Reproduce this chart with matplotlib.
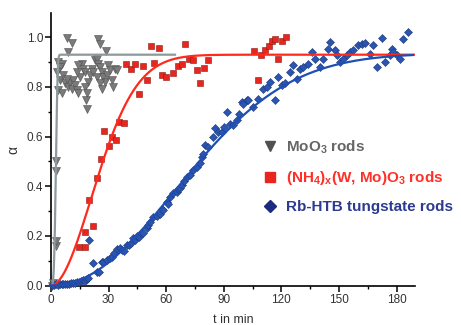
import numpy as np
import matplotlib
matplotlib.use('Agg')
import matplotlib.pyplot as plt
from matplotlib.ticker import MultipleLocator
from matplotlib.lines import Line2D

plt.rcParams['font.family'] = ['Liberation Sans', 'DejaVu Sans']
plt.rcParams['mathtext.default'] = 'regular'

# MoO3 rods (grey triangles)
moo3_t = [0.3, 1.0, 2.6, 2.6, 2.6, 2.6,
          8.2, 10.8, 9.0, 24.7, 25.5, 28.6, 3.8, 5.6, 4.7, 3.3, 4.7, 3.8, 5.6, 7.3,
          9.0, 9.9, 10.8, 11.6, 12.5, 13.4, 14.2, 15.1, 16.0, 16.8, 17.7, 18.2, 18.6,
          19.4, 20.3, 21.2, 22.0, 22.9, 23.8, 24.7, 25.5, 26.4, 27.3, 28.1, 29.0,
          29.9, 30.7, 31.6, 32.5, 33.3, 34.2, 23.8, 25.5, 26.4, 17.7, 18.6, 6.4, 8.2,
          13.4, 14.2]
moo3_a = [0.0, 0.01, 0.16, 0.18, 0.46, 0.50,
          0.999, 0.977, 0.941, 0.995, 0.975, 0.945, 0.901, 0.894, 0.881, 0.861, 0.827,
          0.787, 0.774, 0.814, 0.800, 0.820, 0.793, 0.827, 0.807, 0.787, 0.774, 0.840,
          0.894, 0.874, 0.861, 0.747, 0.713, 0.820, 0.847, 0.874, 0.861, 0.907, 0.914,
          0.894, 0.881, 0.861, 0.840, 0.820, 0.847, 0.887, 0.867, 0.827, 0.800, 0.874,
          0.867, 0.840, 0.814, 0.793, 0.800, 0.774, 0.847, 0.834, 0.861, 0.887]

# (NH4)x(W, Mo)O3 rods (red squares)
nh4_t = [14.5, 17.5, 17.9, 22.0, 19.8, 24.0, 26.0, 27.8, 30.2, 31.9, 33.9, 35.4,
         37.8, 39.1, 41.6, 43.8, 46.0, 48.1, 49.8, 51.9, 53.8, 56.3, 57.6, 59.9,
         63.7, 66.3, 68.0, 69.8, 72.0, 74.1, 75.9, 77.6, 79.7, 81.9, 105.7, 108.0,
         109.4, 111.5, 113.5, 114.9, 116.8, 118.4, 120.2, 122.2]
nh4_a = [0.155, 0.155, 0.215, 0.239, 0.344, 0.435, 0.508, 0.624, 0.564, 0.598,
         0.586, 0.659, 0.653, 0.894, 0.871, 0.894, 0.773, 0.885, 0.830, 0.965,
         0.898, 0.958, 0.847, 0.840, 0.856, 0.883, 0.894, 0.972, 0.914, 0.910,
         0.867, 0.814, 0.878, 0.910, 0.945, 0.827, 0.927, 0.947, 0.967, 0.985,
         0.995, 0.914, 0.985, 1.0]

# Rb-HTB tungstate rods (blue diamonds)
rb_t = [0.5, 1.5, 2.5, 3.5, 4.5, 5.5, 6.5, 7.5, 8.5, 9.5, 10.5, 11.5, 12.5, 13.5,
        14.5, 15.5, 16.5, 17.5, 18.5, 19.5,
        20.0, 22.0, 23.8, 25.2, 26.4, 27.3, 29.0, 30.5, 31.6, 33.0, 34.2, 35.9, 37.0,
        38.0, 39.4, 40.5, 41.5, 42.9, 43.8, 45.0, 46.0, 47.0, 48.1, 49.8, 50.7, 51.6,
        53.3, 55.0, 56.8, 57.6, 58.5, 60.2, 61.0, 62.0, 63.7, 65.5, 66.3, 67.2, 68.0,
        69.5, 70.7, 72.4, 74.1, 75.9, 77.6, 78.5, 79.3, 80.2, 81.9, 84.5, 85.4, 87.0,
        88.9, 90.0, 91.5, 93.2, 95.0, 96.7, 98.0, 99.3, 100.2, 101.9, 102.8, 105.4,
        108.0, 110.6, 112.3, 114.1, 116.7, 118.4, 120.1, 121.9, 124.5, 126.2, 127.9,
        129.7, 131.4, 134.0, 135.8, 137.5, 140.1, 141.8, 144.4, 145.3, 147.9, 148.8,
        150.5, 152.3, 154.0, 155.7, 157.5, 160.1, 161.8, 163.6, 166.2, 167.9, 169.7,
        172.3, 174.0, 176.6, 177.5, 178.4, 180.1, 181.9, 183.6, 186.2]
rb_a = [0.002, 0.004, 0.005, 0.004, 0.006, 0.005, 0.007, 0.006, 0.008, 0.007,
        0.009, 0.010, 0.012, 0.015, 0.013, 0.018, 0.022, 0.020, 0.027, 0.030,
        0.183, 0.089, 0.055, 0.055, 0.096, 0.096, 0.103, 0.110, 0.116, 0.130, 0.146,
        0.150, 0.145, 0.140, 0.163, 0.165, 0.170, 0.190, 0.183, 0.200, 0.197, 0.210,
        0.212, 0.230, 0.245, 0.257, 0.277, 0.280, 0.290, 0.310, 0.304, 0.337, 0.330,
        0.355, 0.371, 0.378, 0.390, 0.391, 0.404, 0.420, 0.438, 0.445, 0.465, 0.478,
        0.492, 0.518, 0.530, 0.565, 0.559, 0.599, 0.633, 0.620, 0.619, 0.640, 0.699,
        0.650, 0.646, 0.666, 0.690, 0.740, 0.733, 0.746, 0.746, 0.720, 0.753, 0.793,
        0.800, 0.820, 0.746, 0.840, 0.807, 0.814, 0.860, 0.887, 0.834, 0.874, 0.881,
        0.894, 0.941, 0.914, 0.881, 0.914, 0.954, 0.981, 0.948, 0.927, 0.901, 0.914,
        0.927, 0.941, 0.948, 0.968, 0.974, 0.977, 0.934, 0.968, 0.881, 0.999, 0.901,
        0.927, 0.954, 0.941, 0.927, 0.914, 0.995, 1.021]

# Avrami fit parameters: plateau, rate k (1/min), exponent n, end of fitted range
fit_A = [0.93, 0.93, 0.935]
fit_k = [0.36, 0.0323, 0.0114]
fit_n = [4.0, 1.9, 2.1]
fit_end = [64.6, 189.6, 188.5]

labels = [r'MoO$_3$ rods', r'(NH$_4$)$_x$(W, Mo)O$_3$ rods', 'Rb-HTB tungstate rods']
pt_col = ['#7a7a7a', '#e8261e', '#2a55b0']
edge_col = ['#505050', '#8a1a14', '#1c3a80']
line_col = ['#8c9a9c', '#ff2a1c', '#1f4fb4']
leg_col = ['#505050', '#e8261e', '#1e2a80']
txt_col = ['#666666', '#ff3028', '#2c3a90']
mk = ['v', 's', 'D']
ms = [5.5, 5.0, 4.3]

fig = plt.figure(figsize=(4.61, 3.25), dpi=100)
ax = fig.add_axes([0.1106, 0.12, 0.7896, 0.84])

data = [(moo3_t, moo3_a), (nh4_t, nh4_a), (rb_t, rb_a)]
for i, (t, a) in enumerate(data):
    ax.plot(t, a, ls='none', marker=mk[i], ms=ms[i], mfc=pt_col[i],
            mec=edge_col[i], mew=0.4, clip_on=False, zorder=3)
for i in range(3):
    tt = np.linspace(0, fit_end[i], 600)
    ax.plot(tt, fit_A[i] * (1 - np.exp(-(fit_k[i] * tt) ** fit_n[i])),
            color=line_col[i], lw=1.6, zorder=4)

ax.set_xlim(0, 189.6)
ax.set_ylim(-0.002, 1.098)
ax.xaxis.set_major_locator(MultipleLocator(30))
ax.xaxis.set_minor_locator(MultipleLocator(15))
ax.yaxis.set_major_locator(MultipleLocator(0.2))
ax.yaxis.set_minor_locator(MultipleLocator(0.1))
ax.yaxis.set_major_formatter(matplotlib.ticker.FormatStrFormatter('%.1f'))
ax.tick_params(which='major', direction='out', length=4, width=1.1,
               labelsize=8.5, labelcolor='#333333', pad=1.5)
ax.tick_params(which='minor', direction='out', length=2.5, width=1.0)
ax.spines['top'].set_visible(False)
ax.spines['right'].set_visible(False)
ax.spines['left'].set_linewidth(1.2)
ax.spines['bottom'].set_linewidth(1.2)

ax.set_xlabel('t in min', fontsize=9, color='#333333', labelpad=6)
ax.set_ylabel('α', fontsize=10, color='#333333', labelpad=5)

handles = [Line2D([], [], ls='none', marker=mk[i], ms=ms[i] + 1.5,
                  mfc=leg_col[i], mec=leg_col[i]) for i in range(3)]
leg = fig.legend(handles, labels, loc='center left', bbox_to_anchor=(0.539, 0.457),
                 frameon=False, handlelength=1.0, handletextpad=0.55,
                 labelspacing=0.85, prop={'size': 11, 'weight': 'bold'})
for i, txt in enumerate(leg.get_texts()):
    txt.set_color(txt_col[i])

fig.savefig('out.png', dpi=100)
